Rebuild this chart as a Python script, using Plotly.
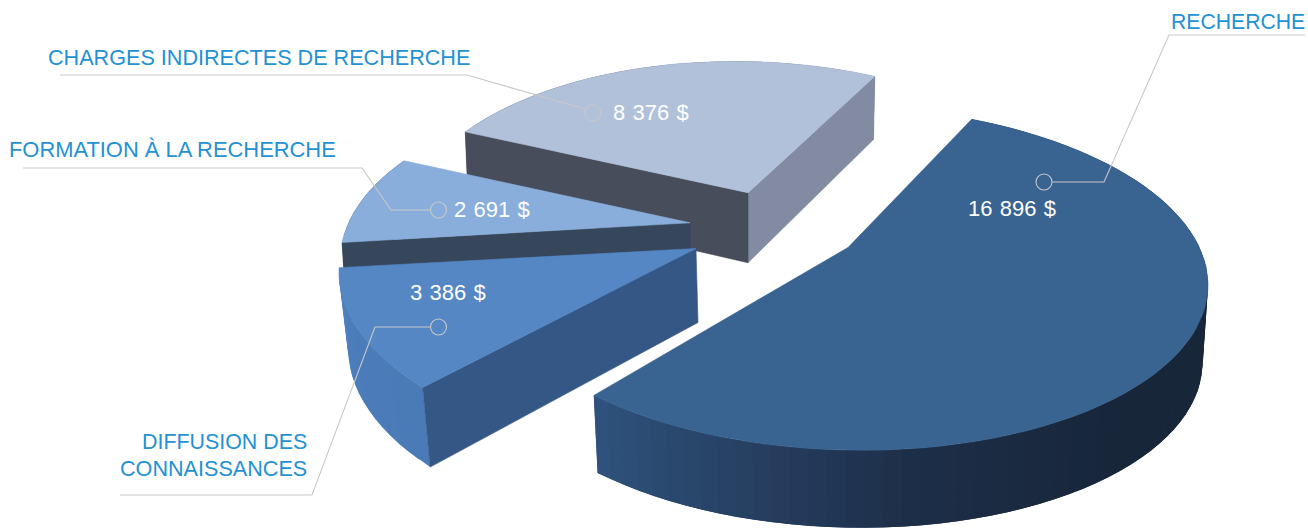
import math
import plotly.graph_objects as go

# Budget split, thousands of dollars
categories = ["RECHERCHE", "DIFFUSION DES CONNAISSANCES", "FORMATION À LA RECHERCHE", "CHARGES INDIRECTES DE RECHERCHE"]
amounts = [16896, 3386, 2691, 8376]

# Ellipse of each exploded wedge in page pixels; p moves the hub away from the ellipse centre
# to give the perspective, start is the wedge's first angle (clockwise), the rest extrudes it.
GEOMETRY = {
    "RECHERCHE": dict(ex=848, ey=278.4, a=360, b=171.8, p=-0.18, s=0.0183, start=-66.0,
                      depth=77.5, kx=0.985, ky=1.0, dx=0),
    "DIFFUSION DES CONNAISSANCES": dict(ex=696, ey=279.5, a=357, b=176, p=-0.176, s=0.019, start=132.6,
                                        depth=74, kx=0.98, ky=1.04, dx=2),
    "FORMATION À LA RECHERCHE": dict(ex=690, ey=268, a=350, b=176.5, p=-0.256, s=0.019, start=171.2,
                                     depth=70, kx=0.99, ky=1.04, dx=1),
    "CHARGES INDIRECTES DE RECHERCHE": dict(ex=748, ey=236.5, a=343, b=175, p=-0.25, s=0.0197, start=-158.4,
                                            depth=70, kx=0.99, ky=1.06, dx=0),
}

# Face colours: flat top, first cut face, last cut face, and (angle, colour) stops round the rim
COLOURS = {
    "RECHERCHE": dict(top="#396391", first=None, last=None,
                      rim=[(-70, "#162538"), (50, "#172639"), (82, "#1d2e48"),
                           (102, "#263f61"), (117, "#2b4a70"), (132, "#305682")]),
    "DIFFUSION DES CONNAISSANCES": dict(top="#5587c4", first="#355785", last=None,
                                        rim=[(130, "#4a7ab6"), (150, "#4b7cb9"), (172, "#4f80bf")]),
    "FORMATION À LA RECHERCHE": dict(top="#8aaedb", first="#36465b", last=None,
                                     rim=[(170, "#36465b"), (205, "#36465b")]),
    "CHARGES INDIRECTES DE RECHERCHE": dict(top="#b1c1da", first="#474d5a", last="#828ba2",
                                            rim=[(-160, "#474d5a"), (-60, "#828ba2")]),
}

DRAW_ORDER = ["CHARGES INDIRECTES DE RECHERCHE", "FORMATION À LA RECHERCHE",
              "DIFFUSION DES CONNAISSANCES", "RECHERCHE"]

# Name captions: (text, anchor x, centre y, horizontal anchor, font size)
CAPTIONS = [
    ("CHARGES INDIRECTES DE RECHERCHE", 46, 57, "left", 21.6),
    ("FORMATION À LA RECHERCHE", 7, 149, "left", 21.9),
    ("RECHERCHE", 1307, 21, "right", 21.2),
    ("DIFFUSION DES", 309, 442, "right", 21.4),
    ("CONNAISSANCES", 309, 468, "right", 21.6),
]
# Amount label centres
AMOUNT_SPOTS = {
    "RECHERCHE": (1012, 208),
    "DIFFUSION DES CONNAISSANCES": (448, 292),
    "FORMATION À LA RECHERCHE": (491.5, 209),
    "CHARGES INDIRECTES DE RECHERCHE": (651, 112),
}
# Leader polylines and the ring each one ends on
LEADERS = [
    ([(60, 75), (467, 75), (585, 109)], (593, 113)),
    ([(23, 168), (362, 168), (391, 210), (430, 210)], (438.5, 210)),
    ([(120, 495), (312, 495), (375, 327), (430, 327)], (438.5, 327)),
    ([(1305, 35), (1169, 35), (1104, 182), (1052, 182)], (1044, 182)),
]
RING_RADIUS = 8
LEADER_COLOUR = "#c8c8c8"
CAPTION_COLOUR = "#2391d3"
FONT = "Liberation Sans"


def rim_point(g, angle_deg):
    """Project a point of the unit circle onto the wedge's perspective ellipse."""
    t = math.radians(angle_deg)
    x, y = math.cos(t), math.sin(t)
    d = 1 + g["p"] * y
    u = x * math.sqrt(1 - g["p"] ** 2) / d
    v = (y + g["p"]) / d
    return g["ex"] + g["a"] * u, g["ey"] + g["b"] * v + g["s"] * g["a"] * u


def hub(g):
    return g["ex"], g["ey"] + g["b"] * g["p"]


def lower(g, pt):
    """Same point on the underside of the wedge."""
    hx, hy = hub(g)
    return hx + g["dx"] + (pt[0] - hx) * g["kx"], hy + g["depth"] + (pt[1] - hy) * g["ky"]


def hex_rgb(c):
    return tuple(int(c[i:i + 2], 16) for i in (1, 3, 5))


def rim_colour(stops, angle):
    if angle <= stops[0][0]:
        return stops[0][1]
    for (a0, c0), (a1, c1) in zip(stops, stops[1:]):
        if angle <= a1:
            f = (angle - a0) / (a1 - a0)
            r0, r1 = hex_rgb(c0), hex_rgb(c1)
            return "rgb({},{},{})".format(*[round(m + (n - m) * f) for m, n in zip(r0, r1)])
    return stops[-1][1]


def polygon(points, colour, name, edge=0.6):
    xs = [p[0] for p in points] + [points[0][0]]
    ys = [p[1] for p in points] + [points[0][1]]
    return go.Scatter(x=xs, y=ys, mode="lines", fill="toself", fillcolor=colour,
                      line=dict(color=colour, width=edge), name=name,
                      hoverinfo="skip", showlegend=False)


fig = go.Figure()
total = sum(amounts)
sweep = {c: v / total * 360 for c, v in zip(categories, amounts)}

for cat in DRAW_ORDER:
    g, col = GEOMETRY[cat], COLOURS[cat]
    a0, a1 = g["start"], g["start"] + sweep[cat]
    steps = max(8, int(sweep[cat] / 2.5))
    angles = [a0 + (a1 - a0) * i / steps for i in range(steps + 1)]
    rim = [rim_point(g, a) for a in angles]
    h = hub(g)

    # outer rim, as overlapping strips so the shading varies along it without seams
    for i in range(steps):
        span = rim[i:min(i + 3, steps + 1)]
        fig.add_trace(polygon(span + [lower(g, p) for p in reversed(span)],
                              rim_colour(col["rim"], (angles[i] + angles[i + 1]) / 2), cat, edge=0))
    # flat cut faces
    if col["last"]:
        fig.add_trace(polygon([h, rim[-1], lower(g, rim[-1]), lower(g, h)], col["last"], cat))
    if col["first"]:
        fig.add_trace(polygon([h, rim[0], lower(g, rim[0]), lower(g, h)], col["first"], cat))
    # top face
    fig.add_trace(polygon([h] + rim, col["top"], cat))

annotations = []
for text, x, y, anchor, size in CAPTIONS:
    annotations.append(dict(x=x, y=y, text=text, xref="x", yref="y", showarrow=False,
                            xanchor=anchor, yanchor="middle",
                            font=dict(family=FONT, size=size, color=CAPTION_COLOUR)))
for cat, value in zip(categories, amounts):
    x, y = AMOUNT_SPOTS[cat]
    label = f"{value:,}".replace(",", "\u2004") + "\u2004$"
    annotations.append(dict(x=x, y=y, text=label, xref="x", yref="y", showarrow=False,
                            xanchor="center", yanchor="middle",
                            font=dict(family=FONT, size=22, color="#ffffff")))

shapes = []
for line, (cx, cy) in LEADERS:
    path = "M " + " L ".join(f"{x} {y}" for x, y in line)
    shapes.append(dict(type="path", path=path, xref="x", yref="y", layer="above",
                       line=dict(color=LEADER_COLOUR, width=1.1)))
    shapes.append(dict(type="circle", xref="x", yref="y", layer="above",
                       x0=cx - RING_RADIUS, x1=cx + RING_RADIUS,
                       y0=cy - RING_RADIUS, y1=cy + RING_RADIUS,
                       line=dict(color=LEADER_COLOUR, width=1.1)))

fig.update_layout(
    width=1308, height=529, margin=dict(l=0, r=0, t=0, b=0),
    paper_bgcolor="white", plot_bgcolor="white", showlegend=False,
    xaxis=dict(range=[0, 1308], visible=False, fixedrange=True),
    yaxis=dict(range=[529, 0], visible=False, fixedrange=True),
    annotations=annotations, shapes=shapes,
)
fig.write_html("out.html", config=dict(displayModeBar=False))
